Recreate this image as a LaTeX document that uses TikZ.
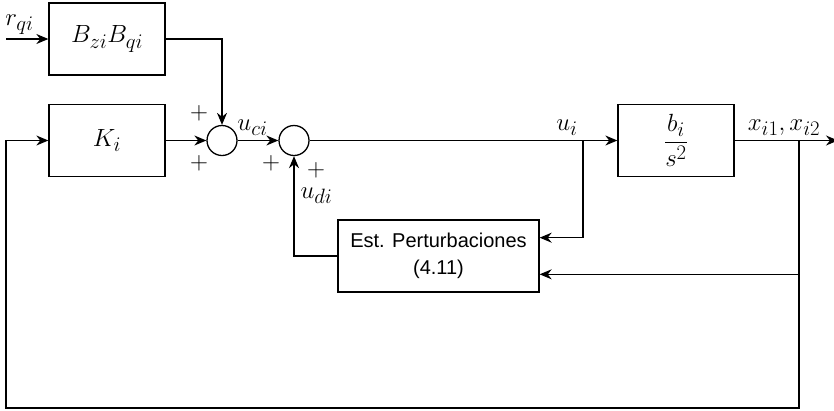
\documentclass[tikz,border=0pt]{standalone}
\usepackage{amsmath}
\usepackage{fontspec}
\usetikzlibrary{arrows.meta,positioning,calc}
\newfontfamily\estfont{Liberation Sans}

\begin{document}
\begin{tikzpicture}[x=1pt,y=-1pt,
    blk/.style={draw,line width=1.3pt,minimum width=116pt,minimum height=72pt,
      inner sep=0pt,font=\fontsize{24.88}{30}\selectfont},
    sumnode/.style={draw,circle,line width=1.3pt,minimum size=30pt,inner sep=0pt},
    sig/.style={line width=1.3pt,-{Stealth[length=12pt,width=10pt]}},
    lbl/.style={inner sep=0pt,anchor=base,font=\fontsize{24.88}{30}\selectfont},
    plus/.style={inner sep=0pt,font=\fontsize{23}{27}\selectfont}]
  \useasboundingbox (0,0) rectangle (834,410);
  % blocks and summing points
  \node[blk] (bzq) at (107,39) {$B_{zi}B_{qi}$};
  \node[blk] (gain) at (107,140.5) {$K_i$};
  \node[blk] (plant) at (676,140.5) {$\dfrac{b_i}{s^2}$};
  \node[blk,minimum width=201pt,align=center,
    font=\estfont\fontsize{20}{27}\selectfont] (est) at (438.5,256)
    {Est. Perturbaciones\\(4.11)};
  \node[sumnode] (sum1) at (222,140.5) {};
  \node[sumnode] (sum2) at (294,140.5) {};
  % free ends and branch points
  \coordinate (rin) at (6,39);
  \coordinate (ubranch) at (583,140.5);
  \coordinate (xbranch) at (799,140.5);
  \coordinate (xout) at (838,140.5);
  \coordinate (fbcorner) at (6,408);
  % connectors
  \draw[sig] (rin) -- (bzq);
  \draw[sig] (bzq.east) -| (sum1.north);
  \draw[sig] (gain) -- (sum1);
  \draw[sig] (sum1) -- (sum2);
  \draw[sig] (sum2) -- (plant);
  \draw[sig] (plant) -- (xout);
  \draw[sig] (ubranch) |- ($(est.north east)!0.25!(est.south east)$);
  \draw[sig] (xbranch) |- ($(est.north east)!0.75!(est.south east)$);
  \draw[sig] (est.west) -| (sum2.south);
  \draw[sig] (xbranch) |- (fbcorner) |- (gain.west);
  % signal labels (placed by baseline)
  \node[lbl] (rlbl) at (19.5,25) {$r_{qi}$};
  \node[lbl] (uclbl) at (252.5,130) {$u_{ci}$};
  \node[lbl] (ulbl) at (567,130) {$u_i$};
  \node[lbl] (xlbl) at (784,130) {$x_{i1},x_{i2}$};
  \node[lbl] (udlbl) at (316.5,198) {$u_{di}$};
  \foreach \i/\px/\py in {1/199/113,2/199/163,3/271/163,4/316/170}
    \node[plus] (plus\i) at (\px,\py) {$+$};
\end{tikzpicture}
\end{document}
